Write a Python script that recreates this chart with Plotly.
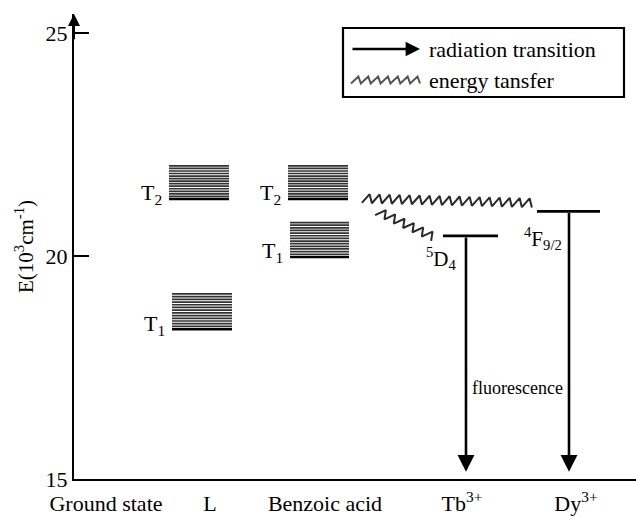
import numpy as np
import plotly.graph_objects as go

# ---- data (energies in 10^3 cm^-1) ----
columns = ["Ground state", "L", "Benzoic acid", "Tb<sup>3+</sup>", "Dy<sup>3+</sup>"]
column_x = [106, 210, 325, 462, 576]          # label centres along the x axis

# triplet bands: (bottom, top) energies
band_names = ["T<sub>1</sub>", "T<sub>2</sub>", "T<sub>1</sub>", "T<sub>2</sub>"]
band_bottom = [18.36, 21.28, 19.98, 21.28]
band_top = [19.15, 22.02, 20.75, 22.02]
band_x0 = [172, 169, 290, 288]
band_x1 = [232, 229, 349, 348]

# lanthanide emitting levels
ion_levels = ["<sup>5</sup>D<sub>4</sub>", "<sup>4</sup>F<sub>9/2</sub>"]
ion_energy = [20.45, 21.0]
ion_x0 = [443, 537]
ion_x1 = [498, 600]
ion_arrow_x = [466, 569]
arrow_end = 15.16

# energy-transfer paths (start/end energies)
transfer_x0 = [362, 377]
transfer_x1 = [532, 433]
transfer_e0 = [21.29, 21.01]
transfer_e1 = [21.19, 20.43]
transfer_teeth = [17, 6]

Y_MIN, Y_TOP = 15.0, 25.426
PX_PER_UNIT = 44.6
SERIF = "Liberation Serif"
BIG = 22

fig = go.Figure()


def zigzag(x0, e0, x1, e1, n, amp):
    """Saw-tooth path between two points, built in screen-like units."""
    X0, Y0 = x0, (e0 - Y_MIN) * PX_PER_UNIT
    X1, Y1 = x1, (e1 - Y_MIN) * PX_PER_UNIT
    dx, dy = X1 - X0, Y1 - Y0
    L = np.hypot(dx, dy)
    ux, uy = dx / L, dy / L
    nx, ny = -uy, ux
    xs, ys = [], []
    for i in range(n):
        for frac, off in ((i / n, -amp), ((i + 0.75) / n, amp)):
            xs.append(X0 + dx * frac + nx * off)
            ys.append(Y0 + dy * frac + ny * off)
    xs.append(X1 - nx * amp)
    ys.append(Y1 - ny * amp)
    return np.array(xs), np.array(ys) / PX_PER_UNIT + Y_MIN


# triplet bands drawn as stacks of closely spaced lines
for name, b, t, x0, x1 in zip(band_names, band_bottom, band_top, band_x0, band_x1):
    n_lines = 14
    levels = np.linspace(b, t, n_lines)
    xs, ys = [], []
    for e in levels[1:]:
        xs += [x0, x1, None]
        ys += [e, e, None]
    fig.add_trace(go.Scatter(x=xs, y=ys, mode="lines",
                             line=dict(color="#333333", width=1.7),
                             hoverinfo="skip", showlegend=False))
    fig.add_trace(go.Scatter(x=[x0, x1], y=[b, b], mode="lines",
                             line=dict(color="black", width=2.5),
                             hoverinfo="skip", showlegend=False))
    fig.add_annotation(x=x0 - 5, y=b + 0.1, text=name, showarrow=False,
                       xanchor="right", yanchor="middle",
                       font=dict(family=SERIF, size=BIG, color="black"))

# lanthanide levels with fluorescence arrows
for name, e, x0, x1, ax in zip(ion_levels, ion_energy, ion_x0, ion_x1,
                               ion_arrow_x):
    fig.add_trace(go.Scatter(x=[x0, x1], y=[e, e], mode="lines",
                             line=dict(color="black", width=2.8),
                             hoverinfo="skip", showlegend=False))
    fig.add_annotation(x=ax, y=arrow_end, ax=ax, ay=e, xref="x", yref="y",
                       axref="x", ayref="y", text="", showarrow=True,
                       arrowhead=2, arrowsize=1.3, arrowwidth=2.6,
                       arrowcolor="black", standoff=0, startstandoff=0)

fig.add_annotation(x=ion_x0[0] - 2, y=ion_energy[0] - 0.5, text=ion_levels[0],
                   showarrow=False, xanchor="center", yanchor="middle",
                   font=dict(family=SERIF, size=21, color="black"))
fig.add_annotation(x=ion_x0[1] - 15, y=ion_energy[1] - 0.6, text=ion_levels[1],
                   showarrow=False, xanchor="left", yanchor="middle",
                   font=dict(family=SERIF, size=21, color="black"))
fig.add_annotation(x=(ion_arrow_x[0] + ion_arrow_x[1]) / 2, y=17.04,
                   text="fluorescence", showarrow=False,
                   font=dict(family=SERIF, size=18, color="black"))

# energy-transfer saw-tooth paths
for x0, x1, e0, e1, n in zip(transfer_x0, transfer_x1, transfer_e0,
                             transfer_e1, transfer_teeth):
    zx, zy = zigzag(x0, e0, x1, e1, n, 4.5)
    fig.add_trace(go.Scatter(x=zx, y=zy, mode="lines",
                             line=dict(color="#2a2a2a", width=2),
                             hoverinfo="skip", showlegend=False))

# y-axis arrow head
fig.add_annotation(x=74, y=Y_TOP, ax=74, ay=Y_TOP - 0.6, xref="x", yref="y",
                   axref="x", ayref="y", text="", showarrow=True,
                   arrowhead=2, arrowsize=1.2, arrowwidth=2,
                   arrowcolor="black", standoff=0, startstandoff=0)


# legend box
def ypx(p):
    return Y_MIN + (479 - p) / PX_PER_UNIT


fig.add_shape(type="rect", x0=343, x1=624, y0=ypx(97), y1=ypx(28),
              xref="x", yref="y", line=dict(color="black", width=2.2),
              fillcolor="white", layer="below")
fig.add_annotation(x=420, y=ypx(49), ax=351, ay=ypx(49), xref="x", yref="y",
                   axref="x", ayref="y", text="", showarrow=True,
                   arrowhead=2, arrowsize=1.2, arrowwidth=2.4,
                   arrowcolor="black", standoff=0, startstandoff=0)
lx, ly = zigzag(351, ypx(80), 420, ypx(80), 7, 3.5)
fig.add_trace(go.Scatter(x=lx, y=ly, mode="lines",
                         line=dict(color="#555555", width=2),
                         hoverinfo="skip", showlegend=False))
fig.add_annotation(x=427, y=ypx(49), text="radiation transition", showarrow=False,
                   xanchor="left", yanchor="middle",
                   font=dict(family=SERIF, size=BIG, color="black"))
fig.add_annotation(x=427, y=ypx(80), text="energy tansfer", showarrow=False,
                   xanchor="left", yanchor="middle",
                   font=dict(family=SERIF, size=BIG, color="black"))

fig.update_layout(
    width=636, height=516,
    margin=dict(l=74, r=0, t=14, b=37),
    paper_bgcolor="white", plot_bgcolor="white",
    showlegend=False,
    xaxis=dict(range=[74, 636], showgrid=False, zeroline=False,
               showline=True, linecolor="black", linewidth=2,
               tickvals=column_x, ticktext=columns, ticks="",
               tickfont=dict(family=SERIF, size=BIG, color="black"),
               ticklabelstandoff=4, fixedrange=True),
    yaxis=dict(range=[Y_MIN, Y_TOP], showgrid=False, zeroline=False,
               showline=True, linecolor="black", linewidth=2,
               tickvals=[15, 20, 25], ticks="inside", ticklen=15,
               tickwidth=2, tickcolor="black",
               tickfont=dict(family=SERIF, size=BIG, color="black"),
               title=dict(text="E(10<sup>3</sup>cm<sup>-1</sup>)",
                          font=dict(family=SERIF, size=21, color="black"),
                          standoff=6),
               fixedrange=True),
)

fig.write_html("out.html")
